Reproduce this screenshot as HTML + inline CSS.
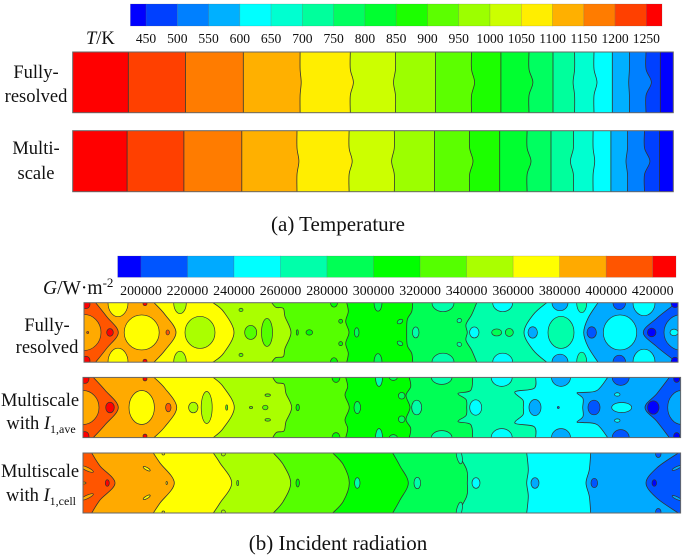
<!DOCTYPE html>
<html lang="en">
<head>
<meta charset="utf-8">
<title>Temperature and incident radiation contours</title>
<style>
html,body{margin:0;padding:0;background:#fff;width:685px;height:556px;overflow:hidden}
svg{display:block;filter:blur(0.35px)}
text{font-family:"Liberation Serif",serif;fill:#111}
.side{font-size:18.5px;text-anchor:middle}
.tick{font-size:13.4px;text-anchor:middle}
.cap{font-size:21px;text-anchor:middle}
</style>
</head>
<body>
<svg id="chart" xmlns="http://www.w3.org/2000/svg" width="685" height="556" viewBox="0 0 685 556">
  <g id="temp-bar"></g>
  <g id="rad-bar"></g>
  <g id="panels"></g>

  <text x="86" y="44" font-size="18.5"><tspan font-style="italic">T</tspan>/K</text>
  <text x="43" y="294" font-size="19.5"><tspan font-style="italic">G</tspan>/W·m<tspan font-size="13" dy="-7">-2</tspan></text>

  <text class="side" x="36" y="78">Fully-</text>
  <text class="side" x="36" y="102">resolved</text>
  <text class="side" x="36" y="154">Multi-</text>
  <text class="side" x="36" y="179">scale</text>

  <text class="side" x="47" y="331">Fully-</text>
  <text class="side" x="47" y="353">resolved</text>
  <text class="side" x="40" y="406">Multiscale</text>
  <text class="side" x="41" y="429">with <tspan font-style="italic">I</tspan><tspan font-size="12" dy="4">1,ave</tspan></text>
  <text class="side" x="40" y="477">Multiscale</text>
  <text class="side" x="41" y="501">with <tspan font-style="italic">I</tspan><tspan font-size="12" dy="4">1,cell</tspan></text>

  <text class="cap" x="338" y="231">(a) Temperature</text>
  <text class="cap" x="338" y="550">(b) Incident radiation</text>
</svg>
<script>
/* ---------- colour scales ---------- */
const tempLevels = [450,500,550,600,650,700,750,800,850,900,950,1000,1050,1100,1150,1200,1250];
const tempColors = ['#0000ff','#0040ff','#0080ff','#00b0ff','#00ffff','#00ffd0','#00ff9c','#00ff60','#00ff30','#1cff00','#5cff00','#9cff00','#ccff00','#ffee00','#ffb000','#ff7c00','#ff4000','#ff0000'];
const radLevels = [200000,220000,240000,260000,280000,300000,320000,340000,360000,380000,400000,420000];
const radColors = ['#0000ff','#0055ff','#00aaff','#00ffff','#00ffaa','#00ff55','#00ff00','#55ff00','#aaff00','#ffff00','#ffaa00','#ff5500','#ff0000'];

/* ---------- temperature contours: axial position at wall and at mid-height ---------- */
const tempFullyResolvedWall = [55.6,112.7,170.6,227.4,277.6,322.8,362.9,398.8,428.2,456.3,480.3,501.9,521.3,539.6,556.7,573.3,587.6];
const tempFullyResolvedMid  = [55.6,112.7,170.6,228.5,280.7,320.8,362.9,401.9,428.2,460.2,480.3,500.4,524.3,539.6,556,578.7,587.6];
const tempMultiscaleWall = [54.4,111.2,169.1,224.3,276.4,321.6,361.7,396.9,427,454.4,478.3,500.7,520.4,538.2,554.8,571.8,586.8];
const tempMultiscaleMid  = [54.4,111.2,169.1,226.2,279.5,318.9,361.7,400.3,427,458.3,478.3,497.7,522,538.2,553.3,577.2,586.8];

/* ---------- radiation contours: [band value, axial/height points of the upper half] ---------- */
const radFullyResolvedBase = 210000;
const radFullyResolvedBands = [
 [230000,[[592.7,0],[572.7,15.7],[559.3,30]]],
 [250000,[[514,0],[504,15.7],[499.7,30]]],
 [270000,[[462.7,0],[449.3,12],[440,30]]],
 [290000,[[392.7,0],[387.7,12],[382,22],[383.3,30]]],
 [310000,[[328.7,0],[327.7,9],[323.3,17],[322.7,30]]],
 [330000,[[262.7,0],[264.3,9],[261.7,19],[265,30]]],
 [350000,[[187.7,0],[192,4.7],[199.3,5.7],[201,14],[207,30]]],
 [370000,[[129,0],[139.6,9],[150,30]]],
 [390000,[[70,0],[81,12],[92,30]]],
 [410000,[[11.7,0],[22.7,14],[34.3,30]]]
];
/* [band value, axial, height, axial radius, height radius, tilt] */
const radFullyResolvedSpots = [
 [390000,0,30,17,18],[370000,34,0,10,14],[370000,57.7,30,17.5,17.5],[430000,26,30,3.3,3.8],[430000,2,1.5,4,4.5],[430000,61,1,2,2],
 [410000,3.7,30,1,1],[410000,83.7,30,1.7,2.5],[350000,96,0,6.3,11],[350000,116,30,15,16],[330000,157,7.3,2,1.7],[330000,166.7,30,6,7],
 [330000,183,30,5.5,14],[310000,213.3,30,1,2.7],[310000,225.3,30,3.3,2.7],[310000,256.7,18.7,2,2],[310000,250,0,3.5,4.5],[290000,272.7,30,2.3,4.7],
 [290000,294,0,4,8.5],[290000,316,19,3,2,-30],[270000,331.7,30,3.3,5.5],[270000,359,0,11,9],[270000,375.3,18,2.3,2,-30],[250000,390.3,30,4.7,5.5],
 [250000,418.7,0,10,9],[290000,412.7,30,5,3.5],[290000,425.3,30,4,4],[230000,476,0,8,8],[230000,448.7,30,4.7,5.7],[270000,477,30,13,16],
 [270000,497.7,0,5,10],[210000,507.7,30,4.7,5.7],[250000,536,30,16.7,17.5],[210000,535.3,0,6.3,7],[250000,560,0,11,13],[190000,567.7,30,4.3,4.3],
 [190000,591,0,4,5],[230000,598,30,18,18],[250000,590,30,4,3.3]
];

const radAveragedBase = 210000;
const radAveragedBands = [
 [230000,[[586.3,0],[574,16],[562,30]]],
 [250000,[[524.7,0],[514,13],[500,15],[494,15.5],[500,21],[499.7,30]]],
 [270000,[[452.7,0],[451,11],[432,14.3],[440,22.7],[440.3,30]]],
 [290000,[[389.7,0],[387.7,13],[375,16],[383,22],[383.7,30]]],
 [310000,[[326.3,0],[327.7,9.3],[323,18],[327,30]]],
 [330000,[[262.7,0],[264.7,9.3],[262,17.7],[266.3,30]]],
 [350000,[[189.7,0],[193.7,5.3],[201,6.7],[203,16],[208.7,30]]],
 [370000,[[130.3,0],[140.3,9.3],[151.3,30]]],
 [390000,[[71,0],[82,11],[93.7,30]]],
 [410000,[[10.3,0],[22,12.7],[35.3,30]]]
];
const radAveragedSpots = [
 [390000,0,30,16,17],[430000,27,30,4.3,5.3],[430000,2,1.5,4,4.5],[430000,62,1.5,2,2],[370000,58.7,30,12.7,17],[410000,85.3,30,2.7,4.3],
 [350000,110.3,30,4.7,5.3],[350000,123.7,30,5.5,16],[330000,143.7,30,1,2.7],[330000,184.7,17.7,2.7,1.3],[330000,168,30,1.7,1],[330000,182.3,30,2.7,2.3],
 [310000,214.7,30,1.7,3.3],[310000,253,0,4,5],[290000,274.3,30,3.3,6],[270000,296,0,3.5,9],[290000,310.3,0,4,3],[290000,318.7,18.3,3.3,3.3],
 [270000,333.7,30,5,7.3],[270000,358.7,0,10.3,7],[250000,418.7,0,10.5,9],[250000,392.7,30,6,7.7],[230000,452,30,6,8],[230000,478,0,9.5,9],
 [210000,475.3,30,1,1],[210000,511,30,6,7.3],[210000,537.7,0,8.5,8],[250000,534.3,17,2.7,1.7],[250000,538.7,30,10,5],[230000,598.7,30,14,17],
 [190000,570.3,30,5.7,6.7],[190000,593.7,1.5,3,3.5]
];

const radCellBase = 210000;
const radCellBands = [
 [230000,[[595.3,0],[573.7,15],[563,30]]],
 [250000,[[507.7,0],[506.3,16.7],[503,30]]],
 [270000,[[443.7,0],[445.3,16.7],[443.7,30]]],
 [290000,[[374.3,0],[383.7,16.7],[384.3,30]]],
 [310000,[[309.7,0],[317,13],[325.3,30]]],
 [330000,[[249.7,0],[260.3,11.7],[266.3,30]]],
 [350000,[[190.3,0],[200.3,11.7],[207.7,30]]],
 [370000,[[130.3,0],[137,10],[148.7,30]]],
 [390000,[[70.3,0],[77,10],[91.3,30]]],
 [410000,[[8.7,0],[17,13],[32,30]]]
];
const radCellSpots = [
 [390000,4,16,7,1.7,25],[430000,24.3,30,2,3.3],[370000,63.7,15.7,4,1.3,30],[370000,83.7,30,0.7,1.5],[370000,80.3,0.7,1.3,1.3],[350000,140.3,1,2,2],
 [330000,154.7,30,1,2.7],[310000,214.7,30,1.7,4],[270000,274.3,30,2.7,5.3],[390000,1,30,2,1],[270000,334.3,30,3.3,5.7],[270000,376.3,3,2.7,8,-12],
 [250000,393,30,4,5.3],[230000,452,30,4,5.3],[210000,511.3,30,3.3,4.7],[190000,571.3,30,2.3,3.3],[210000,575.3,1,2.7,3.5],[230000,593.7,15,5,1.3,-25]
];

/* ---------- helpers ---------- */
const NS = 'http://www.w3.org/2000/svg';
function mk(tag, parent, attrs){
  const el = document.createElementNS(NS, tag);
  for (const k in attrs) el.setAttribute(k, attrs[k]);
  parent.appendChild(el);
  return el;
}
function linear(d0, d1, r0, r1){ return v => r0 + (v - d0) / (d1 - d0) * (r1 - r0); }
function bandColor(value, levels, colors){
  let i = 0;
  while (i < levels.length && value >= levels[i]) i++;
  return colors[i];
}
function smooth(pts){
  let d = '';
  for (let i = 0; i < pts.length - 1; i++){
    const p0 = pts[Math.max(i-1,0)], p1 = pts[i], p2 = pts[i+1], p3 = pts[Math.min(i+2,pts.length-1)];
    const c1x = p1[0] + (p2[0]-p0[0])/6, c1y = p1[1] + (p2[1]-p0[1])/6;
    const c2x = p2[0] - (p3[0]-p1[0])/6, c2y = p2[1] - (p3[1]-p1[1])/6;
    d += 'C' + c1x.toFixed(2) + ' ' + c1y.toFixed(2) + ' ' + c2x.toFixed(2) + ' ' + c2y.toFixed(2) + ' ' + p2[0].toFixed(2) + ' ' + p2[1].toFixed(2);
  }
  return d;
}

/* ---------- colorbars ---------- */
function drawColorbar(group, levels, colors, x0, x1, y0, y1, labelY, fontSize, nameStem){
  const step = levels[1] - levels[0];
  const lo = levels[0] - step/2, hi = levels[levels.length-1] + step/2;
  const sx = linear(lo, hi, x0, x1);
  colors.forEach((c, i) => {
    const a = i === 0 ? lo : levels[i-1];
    const b = i === levels.length ? hi : levels[i];
    const r = mk('rect', group, {x: sx(a), y: y0, width: sx(b) - sx(a), height: y1 - y0, fill: c, stroke: '#555', 'stroke-opacity': 0.3, 'stroke-width': 0.6});
    
    
  });
  levels.forEach(v => {
    const t = mk('text', group, {x: sx(v), y: labelY, class: 'tick', 'font-size': fontSize, style: 'font-size:' + fontSize + 'px'});
    t.textContent = String(v);
    
    
  });
}
drawColorbar(document.getElementById('temp-bar'), tempLevels, tempColors, 130.4, 662, 4, 26, 43, 13.6, 'temperature-colorbar');
drawColorbar(document.getElementById('rad-bar'), radLevels, radColors, 117.7, 676, 256, 277.3, 295, 13.9, 'radiation-colorbar');

/* ---------- contour panels ---------- */
const panelsGroup = document.getElementById('panels');
function drawPanel(cfg){
  const g = mk('g', panelsGroup, {});
  
  
  const clipId = 'clip-' + cfg.name;
  const cp = mk('clipPath', g, {id: clipId});
  mk('rect', cp, {x: cfg.x, y: cfg.y, width: cfg.w, height: cfg.h});
  const sx = linear(0, cfg.w, cfg.x, cfg.x + cfg.w);
  const sy = linear(0, 60, cfg.y, cfg.y + cfg.h);
  const inner = mk('g', g, {'clip-path': 'url(#' + clipId + ')'});
  const base = mk('rect', inner, {x: cfg.x, y: cfg.y, width: cfg.w, height: cfg.h, fill: bandColor(cfg.base, cfg.levels, cfg.colors)});
  
  
  cfg.bands.forEach(b => {
    const upper = b[1];
    const full = upper.concat(upper.slice(0, -1).reverse().map(p => [p[0], 60 - p[1]]));
    const px = full.map(p => [sx(p[0]), sy(p[1])]);
    const line = 'M' + px[0][0] + ' ' + px[0][1] + smooth(px);
    const fillPath = mk('path', inner, {d: line + 'L' + cfg.x + ' ' + (cfg.y + cfg.h) + 'L' + cfg.x + ' ' + cfg.y + 'Z', fill: bandColor(b[0], cfg.levels, cfg.colors)});
    
    
    const stroke = mk('path', inner, {d: line, fill: 'none', stroke: '#333', 'stroke-width': 0.8});
    
    
  });
  (cfg.spots || []).forEach(s => {
    const instances = s[2] < 29 ? [[s[2], s[5] || 0], [60 - s[2], -(s[5] || 0)]] : [[s[2], s[5] || 0]];
    instances.forEach(inst => {
      const cx = sx(s[1]), cy = sy(inst[0]);
      const e = mk('ellipse', inner, {cx: cx, cy: cy, rx: s[3], ry: s[4], fill: bandColor(s[0], cfg.levels, cfg.colors), stroke: '#333', 'stroke-width': 0.7, transform: 'rotate(' + inst[1] + ' ' + cx + ' ' + cy + ')'});
      
      
    });
  });
  const frame = mk('rect', g, {x: cfg.x, y: cfg.y, width: cfg.w, height: cfg.h, fill: 'none', stroke: '#666', 'stroke-width': 1});
  
  
}
function tempBands(wall, mid){
  const out = [];
  for (let i = wall.length - 1; i >= 0; i--){
    const value = tempLevels[wall.length - 1 - i] + 25;
    out.push([value, [[wall[i],0],[wall[i],17],[mid[i],30]]]);
  }
  return out;
}
drawPanel({name:'temperature-fully-resolved', x:72.7, y:52, w:600.6, h:60.7, base:425, levels:tempLevels, colors:tempColors, bands:tempBands(tempFullyResolvedWall, tempFullyResolvedMid)});
drawPanel({name:'temperature-multiscale', x:72.7, y:130.7, w:600.6, h:61, base:425, levels:tempLevels, colors:tempColors, bands:tempBands(tempMultiscaleWall, tempMultiscaleMid)});
drawPanel({name:'radiation-fully-resolved', x:84, y:302.7, w:594, h:59.5, base:radFullyResolvedBase, levels:radLevels, colors:radColors, bands:radFullyResolvedBands, spots:radFullyResolvedSpots});
drawPanel({name:'radiation-multiscale-ave', x:83, y:377.4, w:597.6, h:60.2, base:radAveragedBase, levels:radLevels, colors:radColors, bands:radAveragedBands, spots:radAveragedSpots});
drawPanel({name:'radiation-multiscale-cell', x:83, y:453, w:597.6, h:60, base:radCellBase, levels:radLevels, colors:radColors, bands:radCellBands, spots:radCellSpots});
</script>
</body>
</html>
